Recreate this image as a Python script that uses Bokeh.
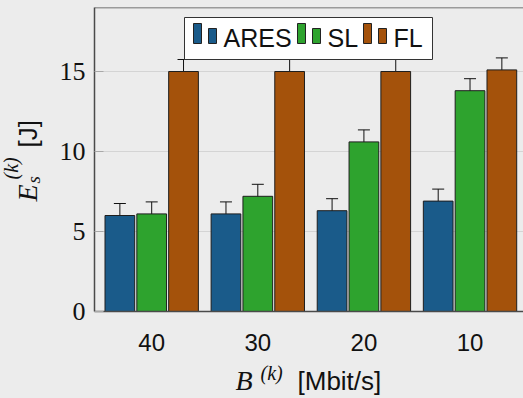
import numpy as np
from bokeh.plotting import figure
from bokeh.layouts import column, row
from bokeh.models import (ColumnDataSource, Range1d, FixedTicker, Whisker, TeeHead,
                          BoxAnnotation, Span)
from bokeh.core.properties import value
from bokeh.embed import file_html
from bokeh.resources import INLINE

# ---- data -------------------------------------------------------------
bandwidth = ["40", "30", "20", "10"]          # B^(k) [Mbit/s]
methods = ["ARES", "SL", "FL"]
ares = [6.0, 6.1, 6.3, 6.9]
sl = [6.1, 7.2, 10.6, 13.8]
fl = [15.0, 15.0, 15.0, 15.1]
ares_err = [0.75, 0.75, 0.75, 0.75]
sl_err = [0.75, 0.75, 0.75, 0.75]
fl_err = [0.75, 0.75, 0.75, 0.75]
y_ticks = [0, 5, 10, 15]

colors = ["#1a5b8a", "#2ea32e", "#a4520b"]
BG = "#ececec"
INK = "#111111"
SERIF = "Liberation Serif"
SANS = "Liberation Sans"

# ---- layout (page pixels) ---------------------------------------------
W, H = 523, 398
YT_W = 48                 # strip holding the rotated y title
XT_H = 40                 # strip holding the x title
FL_LEFT, FL_TOP, FL_BOTTOM = 94, 7, 311
X0, X1, Y_MAX = -0.539, 3.504, 19
BAR_W, BAR_STEP = 0.28, 0.30
MID = 0.35                # baseline -> middle of the em box, in em

PW, PH = W - YT_W, H - XT_H
p = figure(width=PW, height=PH, output_backend="svg", toolbar_location=None,
           x_range=Range1d(X0, X1), y_range=Range1d(0, Y_MAX),
           min_border_left=FL_LEFT - YT_W, min_border_right=0,
           min_border_top=FL_TOP, min_border_bottom=PH - FL_BOTTOM)
p.background_fill_color = BG
p.border_fill_color = BG
p.outline_line_color = None

idx = np.arange(len(bandwidth))
series = [ares, sl, fl]
errors = [ares_err, sl_err, fl_err]
for k, (vals, errs, col) in enumerate(zip(series, errors, colors)):
    x = idx + (k - 1) * BAR_STEP
    v = np.array(vals)
    e = np.array(errs)
    src = ColumnDataSource(dict(x=x, top=v, upper=v + e, lower=v - e))
    p.vbar(x="x", top="top", width=BAR_W, source=src, fill_color=col,
           line_color="#1e1e1e", line_width=1)
    p.add_layout(Whisker(source=src, base="x", upper="upper", lower="lower",
                         line_color=INK, line_width=1,
                         upper_head=TeeHead(size=12, line_color=INK, line_width=1),
                         lower_head=TeeHead(size=12, line_color=INK, line_width=1)))

# ---- axes / grid ------------------------------------------------------
p.xgrid.grid_line_color = None
p.ygrid.ticker = FixedTicker(ticks=y_ticks)
p.ygrid.grid_line_color = "#d4d4d4"
p.ygrid.grid_line_width = 1

ya = p.yaxis[0]
ya.ticker = FixedTicker(ticks=y_ticks)
ya.axis_line_color = "#4a4a4a"
ya.axis_line_width = 1.5
ya.major_tick_in = 9
ya.major_tick_out = 0
ya.major_tick_line_color = "#a8a8a8"
ya.minor_tick_line_color = None
ya.major_label_text_font = SERIF
ya.major_label_text_font_size = "26px"
ya.major_label_text_color = INK
ya.major_label_standoff = 9

xa = p.xaxis[0]
xa.ticker = FixedTicker(ticks=list(idx))
xa.major_label_overrides = {int(i): b for i, b in zip(idx, bandwidth)}
xa.axis_line_color = "#4a4a4a"
xa.axis_line_width = 1.5
xa.major_tick_line_color = None
xa.minor_tick_line_color = None
xa.major_label_text_font = SANS
xa.major_label_text_font_size = "24px"
xa.major_label_text_color = INK
xa.major_label_standoff = 16

p.add_layout(Span(location=Y_MAX, dimension="width", line_color="#4a4a4a", line_width=1.5))

# page pixel -> data coordinates of the main plot
PPU_X = (W - FL_LEFT) / (X1 - X0)
PPU_Y = (FL_BOTTOM - FL_TOP) / Y_MAX


def dx(px):
    return X0 + (px - FL_LEFT) / PPU_X


def dy(py):
    return (FL_BOTTOM - py) / PPU_Y


# ---- legend -------------------------------------------------------------
def box(l, r, t, b, fill, line):
    p.add_layout(BoxAnnotation(left=dx(l), right=dx(r), top=dy(t), bottom=dy(b),
                               fill_color=fill, fill_alpha=1.0,
                               line_color=line, line_width=1, line_alpha=1.0))


box(184, 432, 17, 59, "white", "#333333")
item_x = [193, 297, 363]
for name, col, x0 in zip(methods, colors, item_x):
    box(x0, x0 + 8, 23, 43, col, "#222222")
    box(x0 + 15, x0 + 23, 28, 43, col, "#222222")
leg_txt = p.text(x=[dx(x0 + 30) for x0 in item_x], y=[dy(46 - MID * 25)] * len(methods),
                 text=methods, text_font=value(SANS), text_font_size="25px",
                 text_color=INK, text_baseline="middle", text_align="left")
leg_txt.level = "overlay"


# ---- axis titles in their own strips -------------------------------------
# Each strip's ranges are set so that data coordinates equal page pixels
# (y ranges run downward, like the page).
def strip(w, x_span, y_span):
    f = figure(width=w, height=y_span[2], output_backend="svg", toolbar_location=None,
               x_range=Range1d(*x_span), y_range=Range1d(y_span[0], y_span[1]),
               title=None, min_border=0, outline_line_color=None)
    f.axis.visible = False
    f.grid.visible = False
    f.background_fill_color = BG
    f.border_fill_color = BG
    return f


def put(f, x, y, s, font, size, style="normal", rotated=False):
    # (x, y) is the start of the baseline; the glyph is anchored at the em-box middle
    shift = MID * size
    if rotated:
        x, ang = x - shift, np.pi / 2
    else:
        y, ang = y - shift, 0.0
    f.text(x=[x], y=[y], text=[s], text_font=value(font), text_font_size=f"{size}px",
           text_font_style=style, text_color=INK, text_baseline="middle",
           text_align="left", angle=ang)


# x title strip sits below the main plot: page rows PH..H
xt = strip(W, (0, W), (H, PH, XT_H))
put(xt, 235, 390, "B", SERIF, 28, "italic")
put(xt, 260, 379, "(k)", SERIF, 20, "italic")
put(xt, 297, 390, "[Mbit/s]", SANS, 26)

# y title strip: its frame lines up with the main plot frame (rows FL_TOP..FL_BOTTOM)
yt = strip(YT_W, (0, YT_W), (FL_BOTTOM, FL_TOP, PH))
put(yt, 37, 201, "E", SERIF, 28, "italic", True)
put(yt, 40, 183, "s", SERIF, 19, "italic", True)
put(yt, 17, 179, "(k)", SERIF, 20, "italic", True)
put(yt, 37, 147, "[J]", SANS, 26, rotated=True)

page = column(row(yt, p, spacing=0), xt, spacing=0)
page.styles = {"background-color": BG}
open("out.html", "w").write(file_html(page, INLINE))
